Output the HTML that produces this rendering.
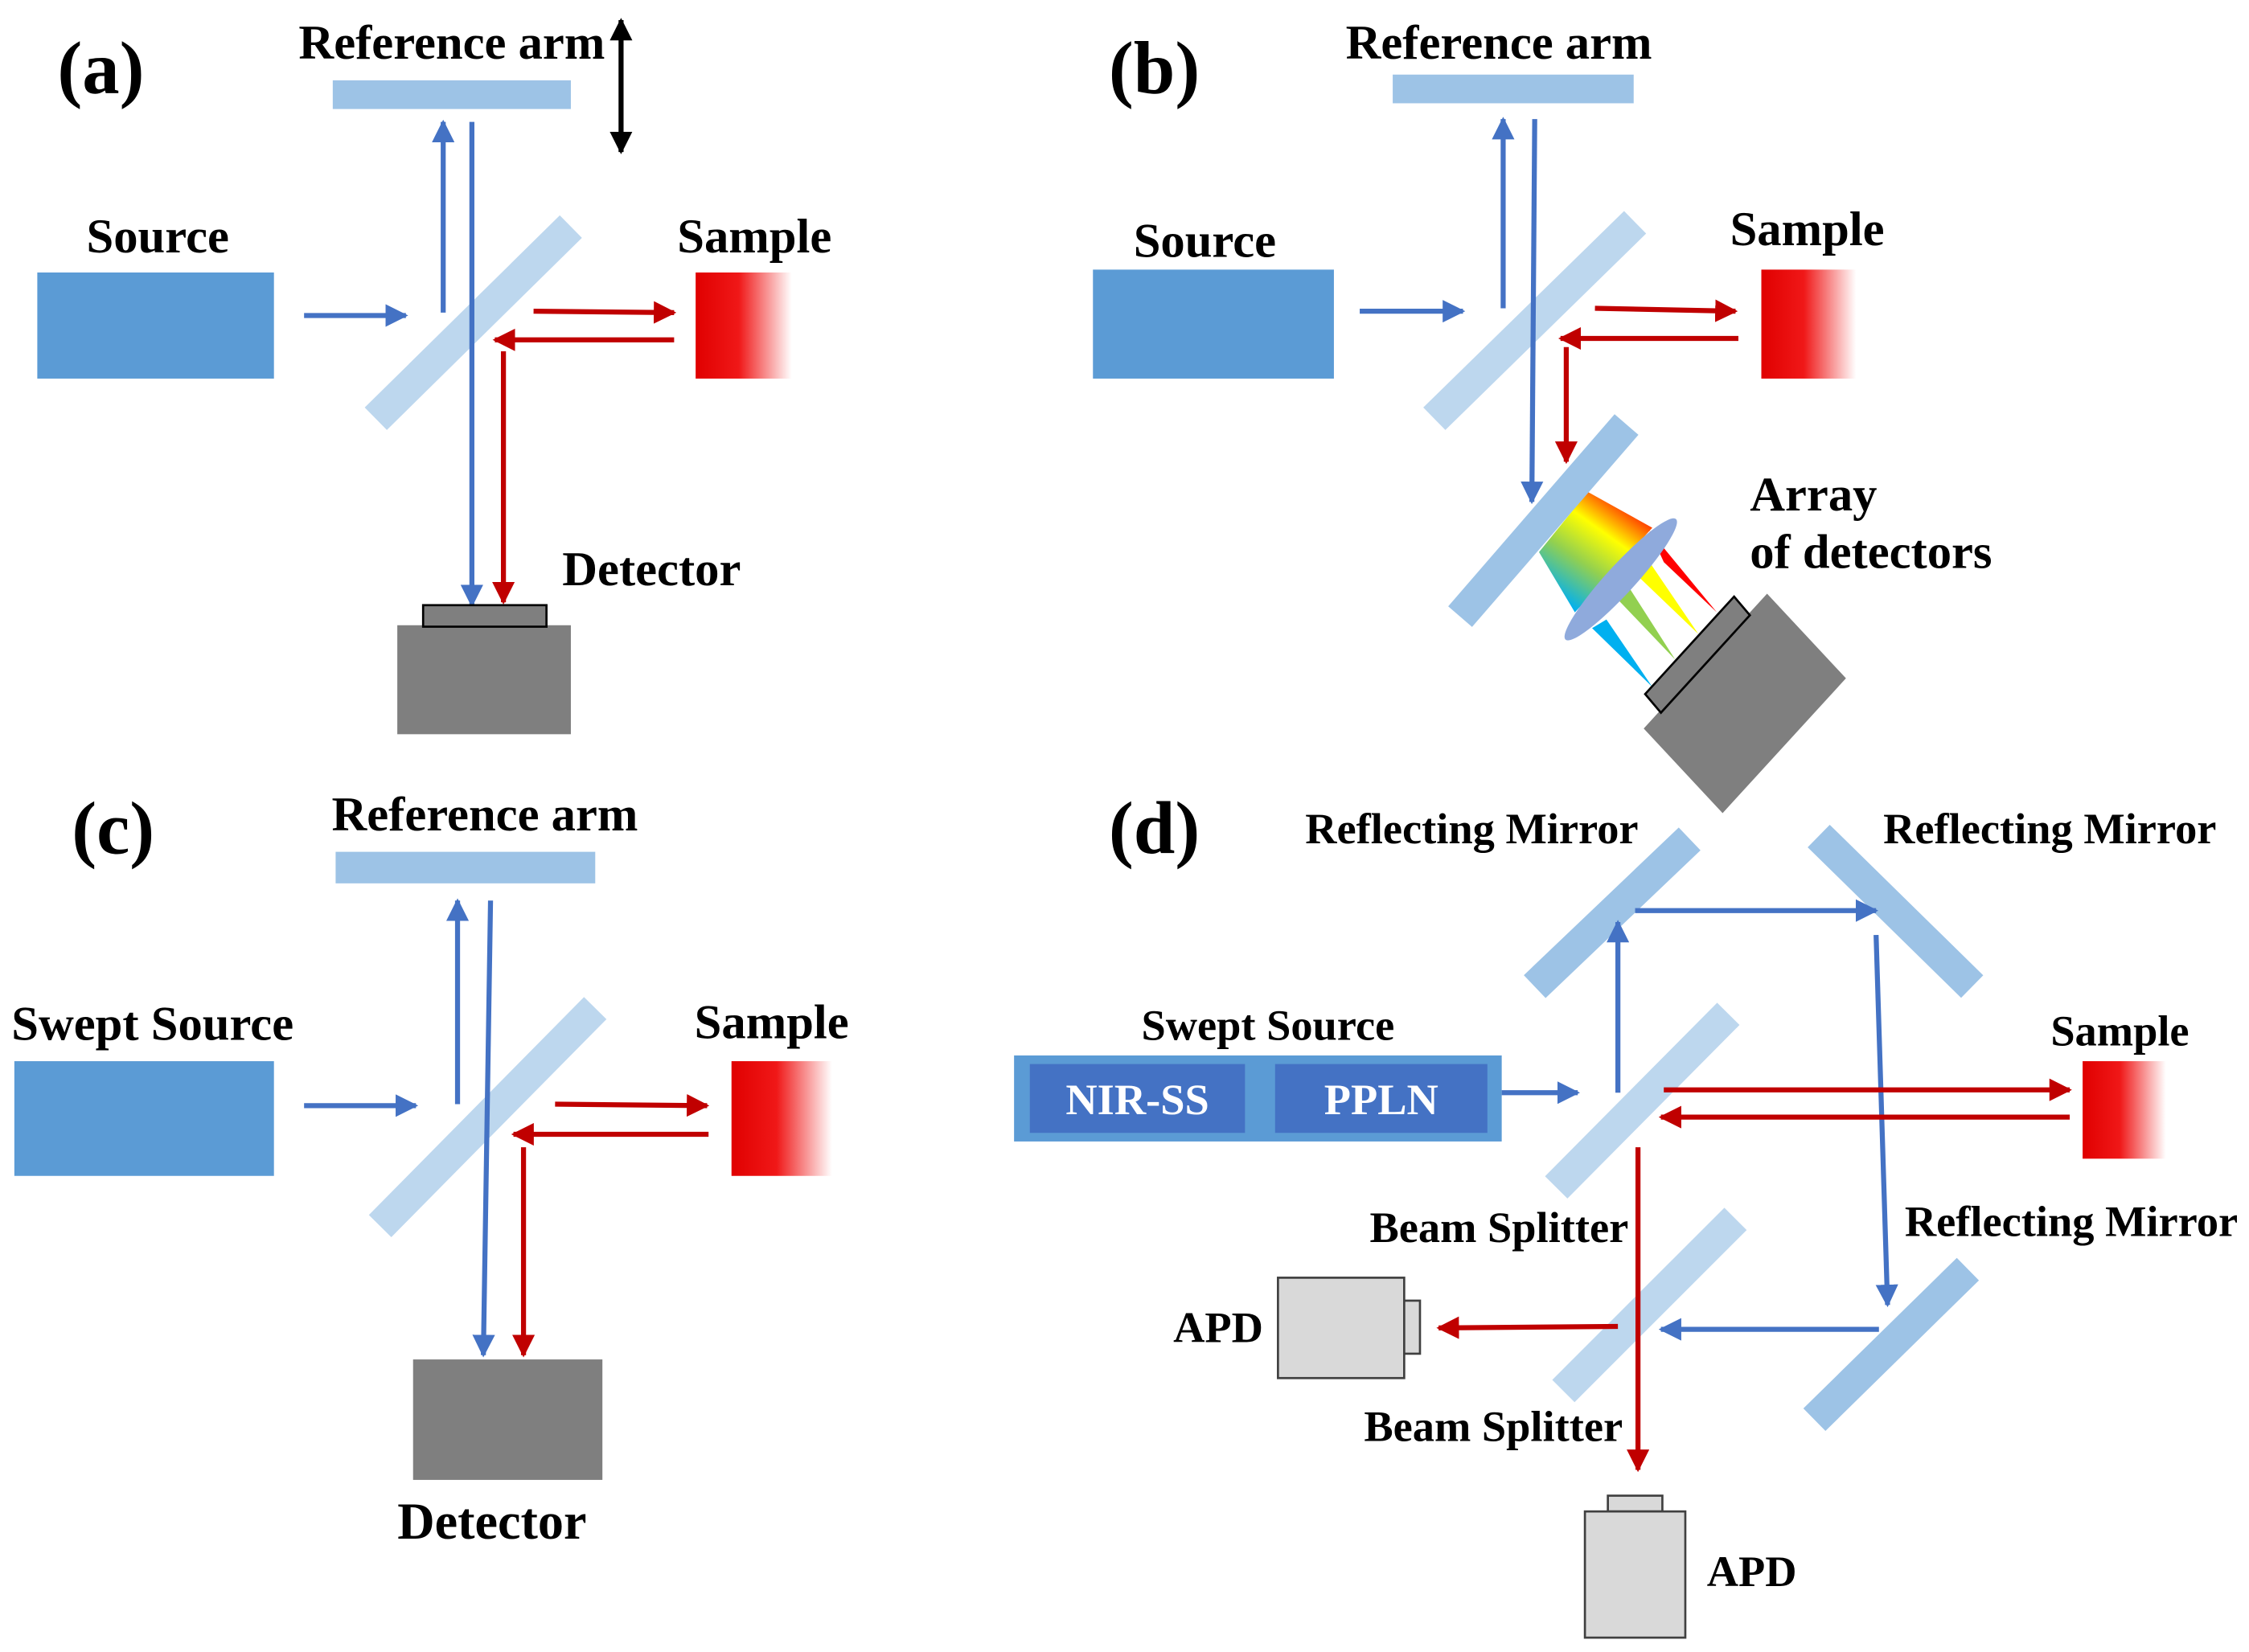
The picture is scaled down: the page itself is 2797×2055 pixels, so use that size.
<!DOCTYPE html>
<html><head><meta charset="utf-8"><style>html,body{margin:0;padding:0;background:#fff}svg{display:block}text{font-family:"Liberation Serif",serif;font-weight:bold;fill:#000}</style></head>
<body>
<svg width="2797" height="2055" viewBox="0 0 1568 1152" xmlns="http://www.w3.org/2000/svg">
<defs>
<marker id="mb" viewBox="0 0 10 10" refX="9" refY="5" markerWidth="4.5" markerHeight="4.5" orient="auto" markerUnits="strokeWidth"><path d="M0,0 L10,5 L0,10 z" fill="#4472c4"/></marker>
<marker id="mr" viewBox="0 0 10 10" refX="9" refY="5" markerWidth="4.5" markerHeight="4.5" orient="auto" markerUnits="strokeWidth"><path d="M0,0 L10,5 L0,10 z" fill="#c00000"/></marker>
<marker id="mk" viewBox="0 0 10 10" refX="9" refY="5" markerWidth="4.5" markerHeight="4.5" orient="auto" markerUnits="strokeWidth"><path d="M0,0 L10,5 L0,10 z" fill="#000"/></marker>
<linearGradient id="sg" x1="0" x2="1" y1="0" y2="0"><stop offset="0" stop-color="#e00000"/><stop offset="0.45" stop-color="#f01818"/><stop offset="1" stop-color="#fff"/></linearGradient>
<linearGradient id="rb" gradientUnits="userSpaceOnUse" x1="1140" y1="350" x2="1090" y2="420"><stop offset="0" stop-color="#ff0000"/><stop offset="0.35" stop-color="#ffff00"/><stop offset="0.65" stop-color="#92d050"/><stop offset="1" stop-color="#00b0f0"/></linearGradient>
</defs>
<g stroke-width="3.5" fill="none">
<!-- (a) -->
<text x="40" y="65" font-size="52">(a)</text>
<text x="315" y="41" font-size="34" text-anchor="middle">Reference arm</text>
<rect x="232" y="56" width="166" height="20" fill="#9dc3e6" stroke="none"/>
<line x1="433" y1="60" x2="433" y2="14" stroke="#000" marker-end="url(#mk)"/>
<line x1="433" y1="60" x2="433" y2="106" stroke="#000" marker-end="url(#mk)"/>
<text x="110" y="176" font-size="34" text-anchor="middle">Source</text>
<rect x="26" y="190" width="165" height="74" fill="#5b9bd5" stroke="none"/>
<line x1="262" y1="292" x2="398" y2="158" stroke="#bdd7ee" stroke-width="22"/>
<line x1="212" y1="220" x2="283" y2="220" stroke="#4472c4" marker-end="url(#mb)"/>
<line x1="309" y1="218" x2="309" y2="85" stroke="#4472c4" marker-end="url(#mb)"/>
<line x1="329" y1="85" x2="329" y2="422" stroke="#4472c4" marker-end="url(#mb)"/>
<line x1="372" y1="217" x2="470" y2="218" stroke="#c00000" marker-end="url(#mr)"/>
<line x1="470" y1="237" x2="345" y2="237" stroke="#c00000" marker-end="url(#mr)"/>
<line x1="351" y1="245" x2="351" y2="420" stroke="#c00000" marker-end="url(#mr)"/>
<rect x="485" y="190" width="67" height="74" fill="url(#sg)" stroke="none"/>
<text x="526" y="176" font-size="34" text-anchor="middle">Sample</text>
<text x="392" y="408" font-size="34">Detector</text>
<rect x="277" y="436" width="121" height="76" fill="#7f7f7f" stroke="none"/>
<rect x="295" y="422" width="86" height="15" fill="#7f7f7f" stroke="#000" stroke-width="1.5"/>
<!-- (b) -->
<text x="773" y="65" font-size="52">(b)</text>
<text x="1045" y="41" font-size="34" text-anchor="middle">Reference arm</text>
<rect x="971" y="52" width="168" height="20" fill="#9dc3e6" stroke="none"/>
<text x="840" y="179" font-size="34" text-anchor="middle">Source</text>
<rect x="762" y="188" width="168" height="76" fill="#5b9bd5" stroke="none"/>
<line x1="1000" y1="292" x2="1140" y2="155" stroke="#bdd7ee" stroke-width="22"/>
<line x1="948" y1="217" x2="1020" y2="217" stroke="#4472c4" marker-end="url(#mb)"/>
<line x1="1048" y1="215" x2="1048" y2="83" stroke="#4472c4" marker-end="url(#mb)"/>
<line x1="1070" y1="83" x2="1068" y2="350" stroke="#4472c4" marker-end="url(#mb)"/>
<line x1="1112" y1="215" x2="1210" y2="217" stroke="#c00000" marker-end="url(#mr)"/>
<line x1="1212" y1="236" x2="1088" y2="236" stroke="#c00000" marker-end="url(#mr)"/>
<line x1="1092" y1="242" x2="1092" y2="322" stroke="#c00000" marker-end="url(#mr)"/>
<rect x="1228" y="188" width="66" height="76" fill="url(#sg)" stroke="none"/>
<text x="1260" y="171" font-size="34" text-anchor="middle">Sample</text>
<polygon points="1107,343 1073,385 1098,427 1152,368" fill="url(#rb)" stroke="none"/>
<line x1="1018" y1="430" x2="1134" y2="296" stroke="#9dc3e6" stroke-width="22"/>
<polygon points="1150,370 1160,392 1197,427" fill="#ff0000" stroke="none"/>
<polygon points="1146,386 1138,398 1184,442" fill="#ffff00" stroke="none"/>
<polygon points="1126,416 1136,410 1168,460" fill="#92d050" stroke="none"/>
<polygon points="1110,438 1120,432 1152,479" fill="#00b0f0" stroke="none"/>
<ellipse cx="1130" cy="404" rx="57" ry="10" transform="rotate(-47.5 1130 404)" fill="#8faadc" stroke="none"/>
<polygon points="1146,508 1232,414 1287,473 1201,567" fill="#7f7f7f" stroke="none"/>
<polygon points="1147,484 1209,416 1220,429 1158,497" fill="#7f7f7f" stroke="#000" stroke-width="1.5"/>
<text x="1220" y="356" font-size="34">Array</text>
<text x="1220" y="396" font-size="34">of detectors</text>
<!-- (c) -->
<text x="50" y="595" font-size="52">(c)</text>
<text x="338" y="579" font-size="34" text-anchor="middle">Reference arm</text>
<rect x="234" y="594" width="181" height="22" fill="#9dc3e6" stroke="none"/>
<text x="8" y="725" font-size="34">Swept Source</text>
<rect x="10" y="740" width="181" height="80" fill="#5b9bd5" stroke="none"/>
<line x1="265" y1="855" x2="415" y2="703" stroke="#bdd7ee" stroke-width="22"/>
<line x1="212" y1="771" x2="290" y2="771" stroke="#4472c4" marker-end="url(#mb)"/>
<line x1="319" y1="770" x2="319" y2="628" stroke="#4472c4" marker-end="url(#mb)"/>
<line x1="342" y1="628" x2="337" y2="945" stroke="#4472c4" marker-end="url(#mb)"/>
<line x1="387" y1="770" x2="493" y2="771" stroke="#c00000" marker-end="url(#mr)"/>
<line x1="494" y1="791" x2="358" y2="791" stroke="#c00000" marker-end="url(#mr)"/>
<line x1="365" y1="800" x2="365" y2="945" stroke="#c00000" marker-end="url(#mr)"/>
<rect x="510" y="740" width="70" height="80" fill="url(#sg)" stroke="none"/>
<text x="538" y="724" font-size="34" text-anchor="middle">Sample</text>
<rect x="288" y="948" width="132" height="84" fill="#7f7f7f" stroke="none"/>
<text x="343" y="1073" font-size="36" text-anchor="middle">Detector</text>
<!-- (d) -->
<text x="773" y="595" font-size="52">(d)</text>
<text x="910" y="588" font-size="30.5">Reflecting Mirror</text>
<text x="1313" y="588" font-size="30.5">Reflecting Mirror</text>
<line x1="1070" y1="688" x2="1178" y2="585" stroke="#9dc3e6" stroke-width="22"/>
<line x1="1268" y1="583" x2="1375" y2="688" stroke="#9dc3e6" stroke-width="22"/>
<line x1="1128" y1="762" x2="1128" y2="643" stroke="#4472c4" marker-end="url(#mb)"/>
<line x1="1140" y1="635" x2="1308" y2="635" stroke="#4472c4" marker-end="url(#mb)"/>
<line x1="1308" y1="652" x2="1316" y2="910" stroke="#4472c4" marker-end="url(#mb)"/>
<text x="884" y="725" font-size="30.5" text-anchor="middle">Swept Source</text>
<rect x="707" y="736" width="340" height="60" fill="#5b9bd5" stroke="none"/>
<rect x="718" y="742" width="150" height="48" fill="#4472c4" stroke="none"/>
<rect x="889" y="742" width="148" height="48" fill="#4472c4" stroke="none"/>
<text x="793" y="777" font-size="30.5" text-anchor="middle" style="fill:#fff">NIR-SS</text>
<text x="963" y="777" font-size="30.5" text-anchor="middle" style="fill:#fff">PPLN</text>
<line x1="1047" y1="762" x2="1100" y2="762" stroke="#4472c4" marker-end="url(#mb)"/>
<line x1="1085" y1="828" x2="1205" y2="707" stroke="#bdd7ee" stroke-width="22"/>
<line x1="1160" y1="760" x2="1443" y2="760" stroke="#c00000" marker-end="url(#mr)"/>
<line x1="1443" y1="779" x2="1158" y2="779" stroke="#c00000" marker-end="url(#mr)"/>
<rect x="1452" y="740" width="58" height="68" fill="url(#sg)" stroke="none"/>
<text x="1478" y="729" font-size="30.5" text-anchor="middle">Sample</text>
<text x="955" y="866" font-size="30.5">Beam Splitter</text>
<line x1="1090" y1="970" x2="1210" y2="850" stroke="#bdd7ee" stroke-width="22"/>
<line x1="1142" y1="800" x2="1142" y2="1025" stroke="#c00000" marker-end="url(#mr)"/>
<line x1="1310" y1="927" x2="1158" y2="927" stroke="#4472c4" marker-end="url(#mb)"/>
<line x1="1128" y1="925" x2="1003" y2="926" stroke="#c00000" marker-end="url(#mr)"/>
<text x="1328" y="862" font-size="30.5">Reflecting Mirror</text>
<line x1="1265" y1="990" x2="1372" y2="885" stroke="#9dc3e6" stroke-width="22"/>
<rect x="891" y="891" width="88" height="70" fill="#d9d9d9" stroke="#404040" stroke-width="1.5"/>
<rect x="979" y="907" width="11" height="37" fill="#d9d9d9" stroke="#404040" stroke-width="1.5"/>
<text x="818" y="936" font-size="30.5">APD</text>
<text x="951" y="1005" font-size="30.5">Beam Splitter</text>
<rect x="1121" y="1043" width="38" height="11" fill="#d9d9d9" stroke="#404040" stroke-width="1.5"/>
<rect x="1105" y="1054" width="70" height="88" fill="#d9d9d9" stroke="#404040" stroke-width="1.5"/>
<text x="1190" y="1106" font-size="30.5">APD</text>
</g>
</svg>
</body></html>
